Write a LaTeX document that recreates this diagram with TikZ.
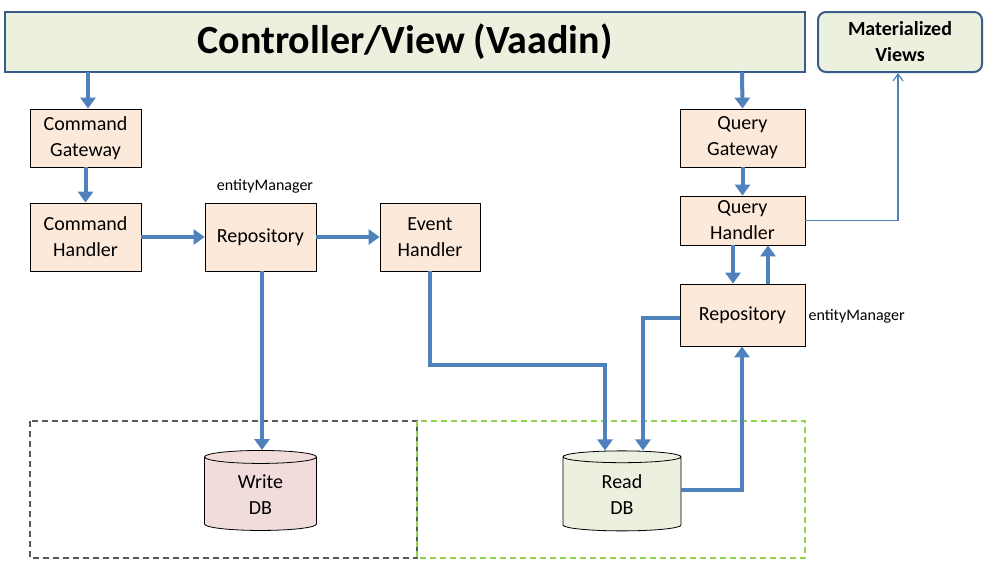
\documentclass[tikz,border=0pt]{standalone}
\usepackage{fontspec}
\setmainfont{Carlito}
\usetikzlibrary{shapes.geometric,arrows.meta}
\definecolor{bord}{HTML}{385D8A}
\definecolor{lgreen}{HTML}{EBF1DE}
\definecolor{peach}{HTML}{FDE9D9}
\definecolor{pink}{HTML}{F2DCDB}
\definecolor{arr}{HTML}{4F81BD}
\definecolor{dgreen}{HTML}{92D050}
\begin{document}
\begin{tikzpicture}[x=1pt,y=-1pt,
  box/.style={draw=black,fill=peach,line width=0.8pt,minimum width=111pt,minimum height=68pt,align=center,font=\fontsize{20}{26}\selectfont,inner sep=0pt},
  fl/.style={draw=arr,line width=4pt,-{Triangle[length=11pt,width=15pt]}},
  cyl/.style={cylinder,shape border rotate=90,aspect=0.25,draw=black,line width=0.8pt,minimum width=116pt,minimum height=80pt,align=center,font=\fontsize{20}{26}\selectfont},
  lab/.style={font=\fontsize{16}{19}\selectfont}]
\useasboundingbox (0,0) rectangle (995,560);
\node[draw=bord,line width=2.5pt,fill=lgreen,minimum width=800pt,minimum height=60pt,font=\fontsize{40}{46}\selectfont\bfseries] (ctl) at (405,42) {Controller/View (Vaadin)};
\node[draw=bord,line width=2pt,fill=lgreen,rounded corners=8pt,minimum width=164pt,minimum height=60pt,align=center,font=\fontsize{20}{26}\selectfont\bfseries] (mv) at (900,42) {Materialized\\Views};
\node[box,minimum height=58pt] (cg) at (85.5,138) {Command\\Gateway};
\node[box] (ch) at (85.5,237) {Command\\Handler};
\node[box] (rp) at (260.5,237) {Repository};
\node[lab] (em1) at (265,186) {entityManager};
\node[box,minimum width=100pt] (eh) at (430,237) {Event\\Handler};
\node[box,minimum width=125pt,minimum height=58pt] (qg) at (742.5,138) {Query\\Gateway};
\node[box,minimum width=125pt,minimum height=49pt] (qh) at (742.5,220.5) {Query\\Handler};
\node[box,minimum width=125pt,minimum height=62pt] (rq) at (742.5,315) {Repository};
\node[lab,anchor=west] (em2) at (805,316) {entityManager};
\draw[gray!70!black,dash pattern=on 6pt off 4pt,line width=1.2pt] (30,421) rectangle (417,558);
\draw[dgreen,dash pattern=on 6pt off 4pt,line width=1.2pt] (417,421) rectangle (805,558);
\node[cyl,fill=pink,minimum width=112pt] (wdb) at (260.5,495) {Write\\DB};
\node[cyl,fill=lgreen,minimum width=118pt] (rdb) at (622,495) {Read\\DB};
\draw[fl] (88,72) -- (cg.north-|88,0);
\draw[fl] (cg) -- (ch);
\draw[fl] (ch) -- (rp);
\draw[fl] (rp) -- (eh);
\draw[fl] (rp.south-|262,0) -- (wdb.north-|262,0);
\draw[fl] (eh.south) |- (605,365) -- (rdb.north-|605,0);
\draw[fl] (742,72) -- (qg.north);
\draw[fl] (qg) -- (qh);
\draw[fl] (qh.south-|733,0) -- (rq.north-|733,0);
\draw[fl] (rq.north-|768,0) -- (qh.south-|768,0);
\draw[fl] (rq.west|-0,318) -| (rdb.north-|643,0);
\draw[fl] (rdb.east|-0,490) -| (rq.south-|742,0);
\draw[arr,line width=1.2pt,-{Straight Barb[length=7pt,width=10pt]}] (qh.east) -| (mv.south-|898,0);
\end{tikzpicture}
\end{document}
